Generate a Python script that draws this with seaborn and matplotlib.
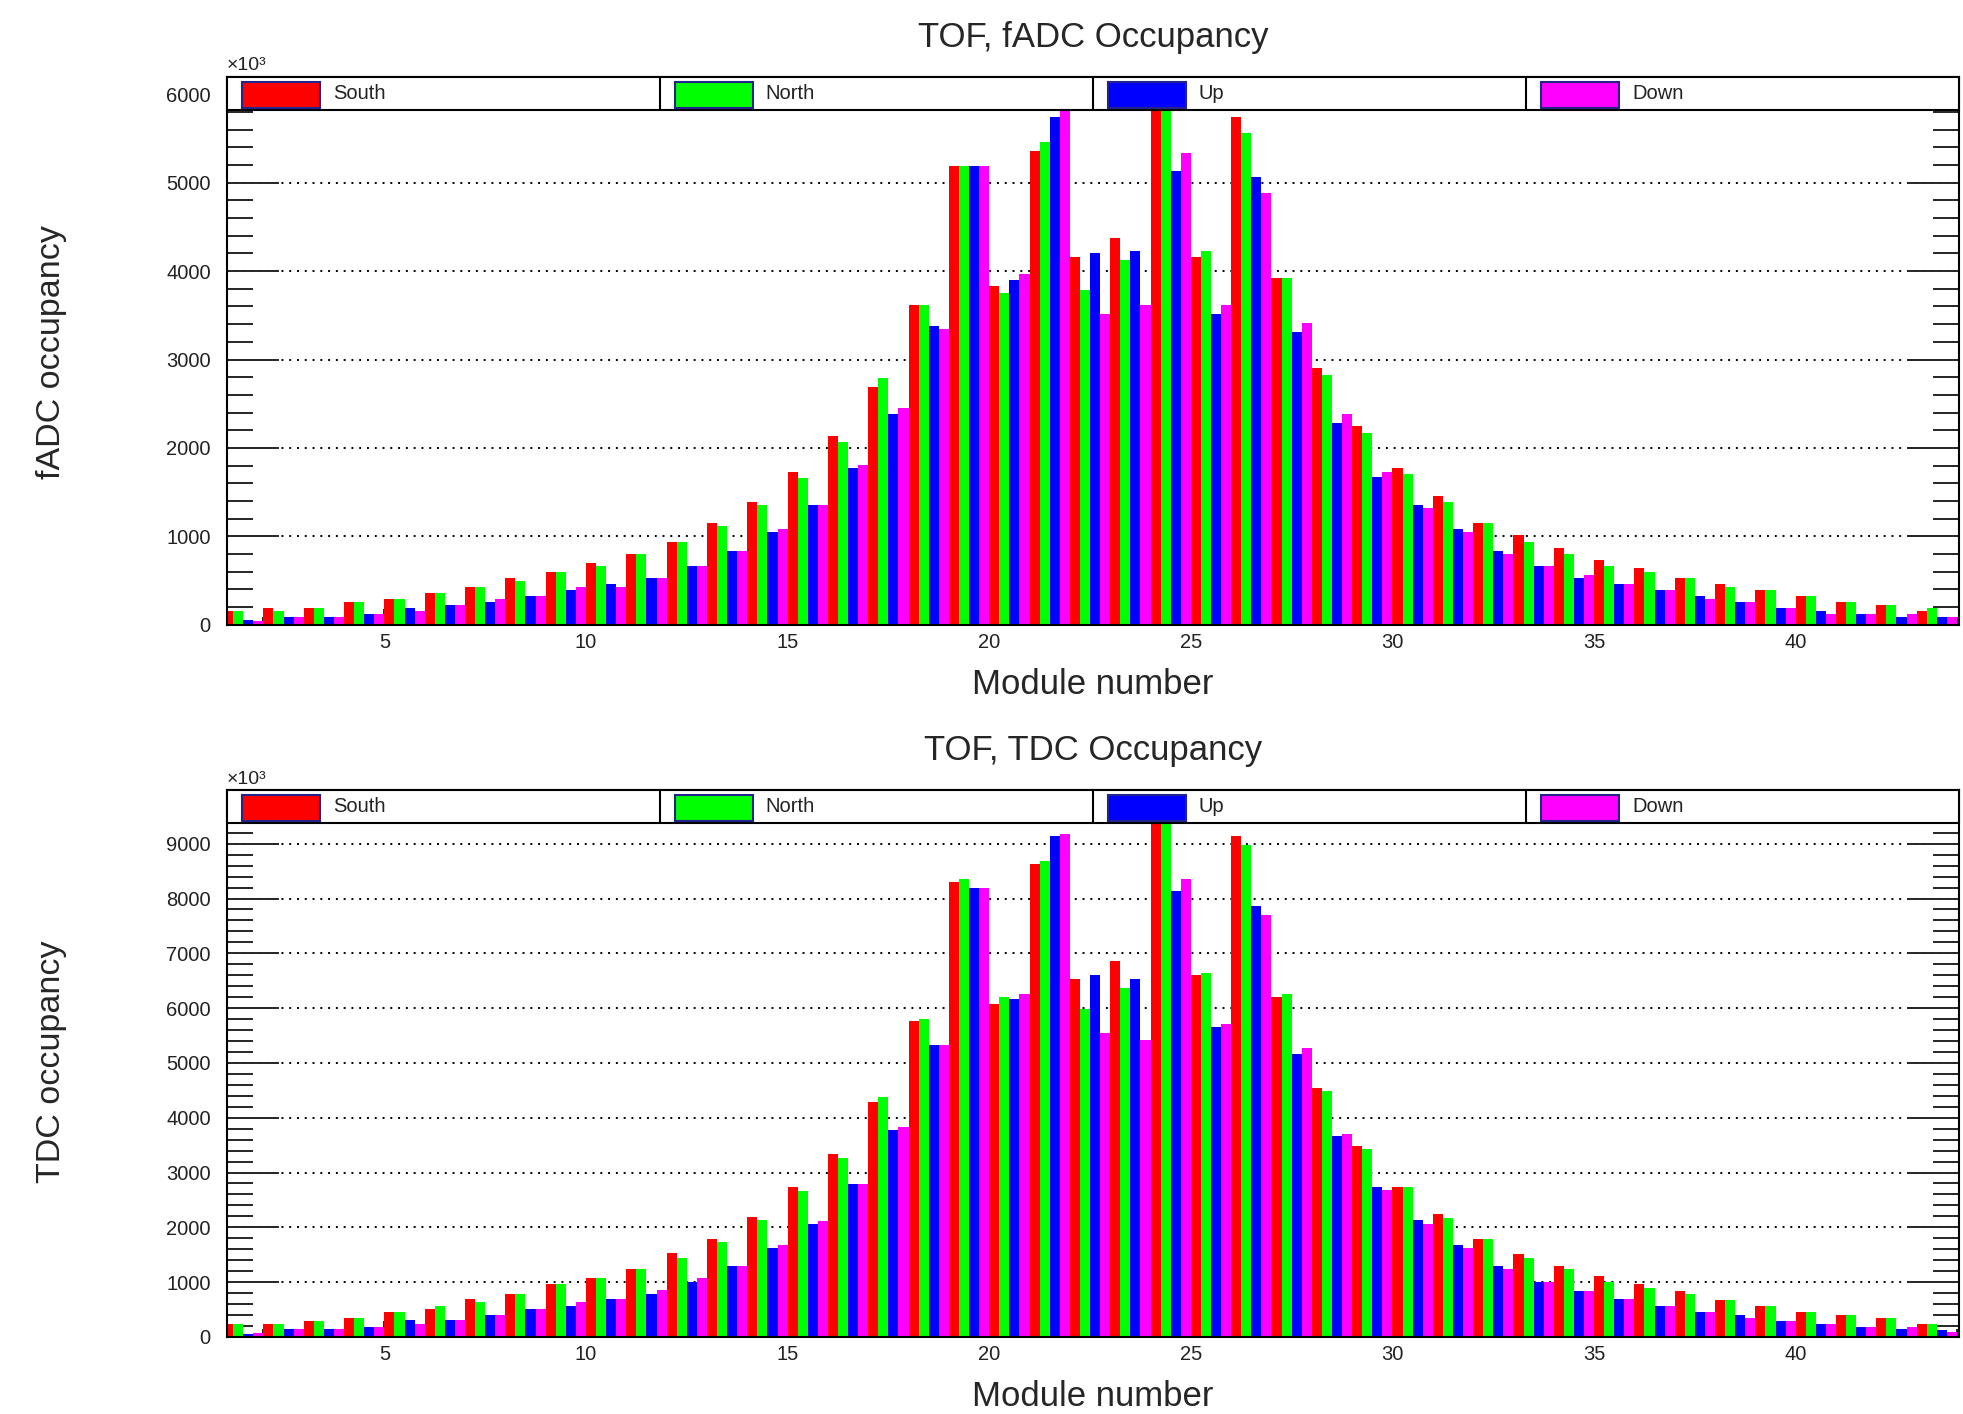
import numpy as np
import pandas as pd
import matplotlib
matplotlib.use('Agg')
import matplotlib.pyplot as plt
from matplotlib.patches import Rectangle
from matplotlib.ticker import MultipleLocator
import seaborn as sns

# module numbers and the four TOF sides
modules = list(range(1, 44))
sides = ['South', 'North', 'Up', 'Down']
colors = {'South': '#ff0000', 'North': '#00ff00', 'Up': '#0000ff', 'Down': '#ff00ff'}

# fADC occupancy (x10^3)
fadc_south = [150, 190, 190, 255, 295, 356, 425, 534, 595, 700, 802, 939, 1146, 1385, 1729,
              2138, 2692, 3615, 5190, 3826, 5364, 4162, 4372, 5900, 4162, 5749, 3927, 2903, 2247,
              1769, 1457, 1146, 1012, 870, 737, 636, 534, 466, 393, 324, 255, 223, 150]
fadc_north = [150, 150, 190, 255, 295, 356, 425, 494, 595, 660, 802, 939, 1113, 1356, 1660,
              2065, 2794, 3615, 5190, 3753, 5466, 3785, 4130, 5880, 4223, 5567, 3927, 2830, 2174,
              1700, 1385, 1146, 939, 802, 668, 595, 534, 425, 393, 324, 255, 223, 190]
fadc_up = [53, 90, 90, 120, 190, 223, 255, 324, 393, 466, 534, 668, 838, 1045, 1356,
           1769, 2389, 3381, 5190, 3895, 5749, 4202, 4231, 5130, 3514, 5061, 3312, 2279, 1668,
           1356, 1081, 838, 668, 534, 466, 393, 324, 255, 190, 150, 121, 89, 89]
fadc_down = [40, 90, 90, 120, 150, 223, 295, 324, 425, 425, 534, 668, 838, 1081, 1356,
             1802, 2449, 3340, 5190, 3968, 5818, 3514, 3615, 5332, 3615, 4887, 3413, 2381, 1729,
             1324, 1045, 802, 668, 567, 466, 393, 296, 255, 190, 121, 121, 121, 89]

# TDC occupancy (x10^3)
tdc_south = [235, 235, 288, 348, 462, 515, 689, 780, 970, 1068, 1235, 1523, 1788, 2182, 2727,
             3333, 4280, 5765, 8295, 6083, 8636, 6538, 6864, 9500, 6598, 9136, 6197, 4545, 3492,
             2727, 2235, 1788, 1515, 1296, 1121, 970, 841, 682, 568, 462, 402, 348, 235]
tdc_north = [235, 235, 288, 348, 462, 568, 629, 780, 970, 1068, 1235, 1447, 1727, 2129, 2659,
             3265, 4379, 5803, 8356, 6197, 8682, 5985, 6364, 9450, 6636, 8977, 6250, 4492, 3432,
             2727, 2167, 1788, 1447, 1235, 1008, 894, 780, 682, 568, 462, 402, 348, 235]
tdc_up = [61, 136, 136, 190, 303, 303, 402, 515, 568, 689, 780, 1008, 1296, 1629, 2068,
          2788, 3773, 5326, 8189, 6159, 9136, 6598, 6538, 8144, 5652, 7864, 5159, 3659, 2727,
          2129, 1674, 1295, 1008, 841, 689, 568, 462, 402, 288, 235, 190, 136, 121]
tdc_down = [76, 136, 136, 190, 235, 303, 402, 515, 629, 689, 856, 1068, 1296, 1675, 2121,
            2788, 3826, 5326, 8189, 6250, 9174, 5553, 5424, 8356, 5705, 7697, 5265, 3712, 2674,
            2068, 1614, 1235, 1008, 841, 689, 568, 462, 348, 288, 235, 190, 174, 99]


def long_table(series):
    rows = []
    for side, vals in zip(sides, series):
        for m, v in zip(modules, vals):
            rows.append((m, side, v))
    return pd.DataFrame(rows, columns=['module', 'side', 'occupancy'])


sns.set_style('ticks')
plt.rcParams['font.family'] = ['Liberation Sans', 'DejaVu Sans']

W, H = 1963, 1414
fig = plt.figure(figsize=(W / 100, H / 100), dpi=100)
left, right = 226.7 / W, 1959 / W
ax1 = fig.add_axes([left, 0.5582, right - left, 0.9458 - 0.5582])
ax2 = fig.add_axes([left, 0.0545, right - left, 0.4413 - 0.0545])

panels = [
    (ax1, [fadc_south, fadc_north, fadc_up, fadc_down], 'TOF, fADC Occupancy', 'fADC occupancy',
     6200, range(0, 7000, 1000), 0.967, 0.5095, 0.751),
    (ax2, [tdc_south, tdc_north, tdc_up, tdc_down], 'TOF, TDC Occupancy', 'TDC occupancy',
     9980, range(0, 10000, 1000), 0.4623, 0.0057, 0.249),
]

xc = (left + right) / 2
lh = 0.061  # legend box height, axes fraction

for ax, series, title, ylab, ymax, yticks, ty, xly, yly in panels:
    df = long_table(series)
    # one bin per module, four dodged bars per bin
    sns.histplot(data=df, x='module', weights='occupancy', hue='side', hue_order=sides,
                 palette=colors, bins=len(modules), binrange=(modules[0], modules[-1] + 1),
                 multiple='dodge', shrink=1, alpha=1, edgecolor='none', linewidth=0,
                 legend=False, ax=ax)
    ax.set_xlim(1.09, 44.05)
    ax.set_ylim(0, ymax)
    ax.set_xlabel('')
    ax.set_ylabel('')

    ax.set_yticks(list(yticks))
    ax.yaxis.set_minor_locator(MultipleLocator(200))
    ax.xaxis.set_major_locator(MultipleLocator(5))
    ax.xaxis.set_minor_locator(MultipleLocator(1))
    for t in yticks:
        ax.axhline(t, color='black', lw=1.4, ls=(0, (1, 3)), zorder=0)

    ax.tick_params(axis='y', which='both', direction='in', left=True, right=True,
                   width=1.4, labelsize=14.5, pad=11.5, labelcolor='#222222')
    ax.tick_params(axis='y', which='major', length=37.4)
    ax.tick_params(axis='y', which='minor', length=18.7)
    ax.tick_params(axis='x', which='both', direction='in', bottom=True, top=False,
                   width=1.4, labelsize=14.5, pad=6, labelcolor='#222222')
    ax.tick_params(axis='x', which='major', length=11.5)
    ax.tick_params(axis='x', which='minor', length=5.8)
    for sp in ax.spines.values():
        sp.set_linewidth(1.5)
        sp.set_color('black')

    # legend box across the top of the frame
    ax.add_patch(Rectangle((0, 1 - lh), 1, lh, transform=ax.transAxes, facecolor='white',
                           edgecolor='black', lw=1.5, zorder=5, clip_on=False))
    for i, side in enumerate(sides):
        x0 = i / 4
        if i > 0:
            ax.plot([x0, x0], [1 - lh, 1], transform=ax.transAxes, color='black', lw=1.5,
                    zorder=6, clip_on=False)
        ax.add_patch(Rectangle((x0 + 0.0087, 1 - lh + 0.0036), 0.045, 0.0474,
                               transform=ax.transAxes, facecolor=colors[side],
                               edgecolor='#23238c', lw=1.5, zorder=6, clip_on=False))
        ax.text(x0 + 0.0612, 1 - lh / 2, side, transform=ax.transAxes, ha='left',
                va='center', fontsize=14.5, color='#222222', zorder=7)

    ax.text(0, 1.004, '×10³', transform=ax.transAxes, ha='left', va='bottom',
            fontsize=14, color='#222222')

    fig.text(xc, ty, title, ha='center', va='baseline', fontsize=25)
    fig.text(xc, xly, 'Module number', ha='center', va='baseline', fontsize=25)
    fig.text(0.0262, yly, ylab, ha='center', va='center', rotation=90, fontsize=24.5)

fig.savefig('out.png', dpi=100)
